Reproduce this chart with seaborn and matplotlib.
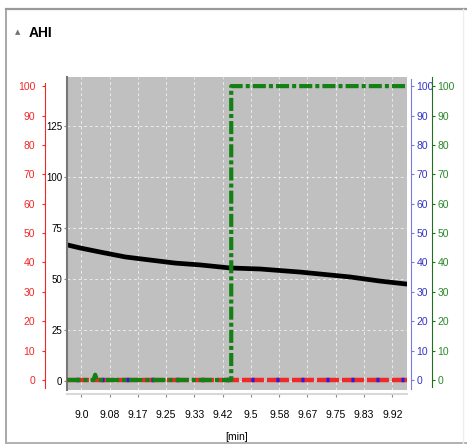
import pandas as pd
import seaborn as sns
import matplotlib.pyplot as plt
import numpy as np
from matplotlib.lines import Line2D

# black trace (left inner axis, 0..125)
black_t = [8.959, 8.997, 9.056, 9.13, 9.203, 9.277, 9.35, 9.439, 9.527, 9.645, 9.792, 9.88, 9.96]
black_v = [66.7, 65.2, 63.2, 60.8, 59.3, 57.8, 56.9, 55.4, 54.9, 53.4, 51.0, 49.0, 47.5]

# green trace (right outer axis, 0..100)
green_t = [8.959, 9.036, 9.041, 9.046, 9.442, 9.442, 9.96]
green_v = [0, 0, 1.8, 0, 0, 100, 100]

# red and blue traces sit at zero
red_t = [8.959, 9.96]
red_v = [0, 0]
blue_t = [8.959, 9.96]
blue_v = [0, 0]

xticks = [9.0 + k / 12 for k in range(12)]
xlabels = ["9.0", "9.08", "9.17", "9.25", "9.33", "9.42", "9.5", "9.58", "9.67", "9.75", "9.83", "9.92"]
black_ticks = [0, 25, 50, 75, 100, 125]
side_ticks = list(range(0, 101, 10))

plt.rcParams["font.family"] = ["Liberation Sans", "DejaVu Sans"]
plt.rcParams["lines.scale_dashes"] = False

RED = "#f02828"
BLUE = "#3434c8"
GREEN = "#2a8a2a"
FS = 7.5

f = plt.figure(figsize=(4.67, 4.45), dpi=100)
ax = f.add_axes([67 / 467, 1 - 390 / 445, 340 / 467, 313 / 445])
ax.set_facecolor("#c0c0c0")

red_ax = ax.twinx()
blue_ax = ax.twinx()
green_ax = ax.twinx()
for a in (red_ax, blue_ax, green_ax):
    a.set_ylim(-3.4, 103.1)
    a.set_yticks(side_ticks)
    for s in a.spines.values():
        s.set_visible(False)
    a.patch.set_visible(False)

# black
sns.lineplot(x=black_t, y=black_v, ax=ax, color="black", linewidth=3.4, estimator=None, sort=False)
ax.set_xlim(8.958, 9.96)
ax.set_ylim(-4.4, 149)
ax.set_yticks(black_ticks)
ax.set_xticks(xticks)
ax.set_xticklabels(xlabels)
ax.grid(color="white", linestyle=(0, (2, 2)), linewidth=0.7, alpha=0.7)
ax.tick_params(axis="both", length=2.5, width=0.8, color="#888888", labelsize=FS, pad=2)
ax.tick_params(axis="y", labelsize=7, pad=1.5, length=2)
ax.tick_params(axis="x", pad=9)
for s in ["top", "right"]:
    ax.spines[s].set_visible(False)
ax.spines["left"].set_color("#777777")
ax.spines["left"].set_linewidth(1.5)
ax.spines["bottom"].set_color("#d8d8d8")
ax.spines["bottom"].set_linewidth(1.5)
ax.spines["bottom"].set_position(("outward", 3))
ax.set_xlabel("[min]", fontsize=FS)
ax.xaxis.set_label_coords(0.5, -0.135)

# red (left outer axis)
red_ax.yaxis.set_ticks_position("left")
red_ax.spines["left"].set_visible(True)
red_ax.spines["left"].set_position(("axes", -22 / 340))
red_ax.spines["left"].set_color(RED)
red_ax.spines["left"].set_bounds(-2.7, 101)
red_ax.tick_params(axis="y", colors=RED, length=2, labelsize=FS, pad=5)
sns.lineplot(x=red_t, y=red_v, ax=red_ax, color=RED, linewidth=3.2, estimator=None)
red_ax.lines[-1].set_dashes((15.8, 2.2))

# blue (right inner axis)
blue_ax.spines["right"].set_visible(True)
blue_ax.spines["right"].set_position(("axes", 1 + 4 / 340))
blue_ax.spines["right"].set_color("#7a7ae0")
blue_ax.spines["right"].set_bounds(-3.2, 102.5)
blue_ax.tick_params(axis="y", colors="#7a7ae0", labelcolor=BLUE, length=2, labelsize=FS, pad=2)
sns.lineplot(x=blue_t, y=blue_v, ax=blue_ax, color="#2020e0", linewidth=3.2, estimator=None)
blue_ax.lines[-1].set_linestyle((11.2, (2.2, 15.8)))

# green (right outer axis)
green_ax.spines["right"].set_visible(True)
green_ax.spines["right"].set_position(("axes", 1 + 25 / 340))
green_ax.spines["right"].set_color("#207020")
green_ax.spines["right"].set_bounds(-2.5, 103)
green_ax.tick_params(axis="y", colors="#207020", labelcolor=GREEN, length=2, labelsize=FS, pad=2)
sns.lineplot(x=green_t, y=green_v, ax=green_ax, color="#128012", linewidth=3, estimator=None, sort=False)
green_ax.lines[-1].set_dashes((9.4, 2.2, 2.9, 2.2))

for a in (red_ax, blue_ax, green_ax):
    a.set_ylabel("")
    a.set_xlim(8.958, 9.96)

# panel frame and header
f.add_artist(Line2D([6 / 467, 1], [1 - 9 / 445] * 2, color="#9a9a9a", lw=1.6, transform=f.transFigure))
f.add_artist(Line2D([6 / 467] * 2, [1 - 9 / 445, 1 - 443 / 445], color="#9a9a9a", lw=1.2, transform=f.transFigure))
f.add_artist(Line2D([6 / 467, 1], [1 - 443 / 445] * 2, color="#b0b0b0", lw=1.4, transform=f.transFigure))
f.add_artist(Line2D([463 / 467] * 2, [1 - 9 / 445, 1 - 443 / 445], color="#eeeeee", lw=1, transform=f.transFigure))
f.text(18 / 467, 1 - 32 / 445, "\u25b2", fontsize=5, color="#707070", ha="center", va="center", family="DejaVu Sans")
f.text(29 / 467, 1 - 33 / 445, "AHI", fontsize=10, fontweight="bold", color="black", ha="left", va="center")

f.savefig("out.png", dpi=100)
